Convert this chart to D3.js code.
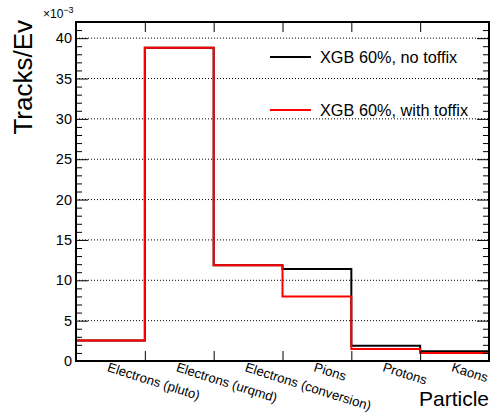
<!DOCTYPE html>
<html><head><meta charset="utf-8">
<script src="https://cdn.jsdelivr.net/npm/d3@7"></script>
<style>
body{margin:0;background:#fff;}
svg{display:block;font-family:"Liberation Sans",Arial,sans-serif;}
</style></head>
<body>
<svg id="c" width="491" height="416"></svg>
<script>
const categories = ["Electrons (pluto)","Electrons (urqmd)","Electrons (conversion)","Pions","Protons","Kaons"];
const noToffix   = [2.55, 38.8, 11.85, 11.4, 1.9, 1.2];   // x10^-3
const withToffix = [2.55, 38.8, 11.85, 8.0, 1.5, 1.0];    // x10^-3
const seriesNames = ["XGB 60%, no toffix","XGB 60%, with toffix"];
const seriesColors = ["#000000","#ff0000"];
const yMajor = [0,5,10,15,20,25,30,35,40];

const svg = d3.select("#c");
const L=76, R=489, T=22, B=361;
const xEdge = d3.scaleLinear().domain([0,categories.length]).range([L,R]);
const xBand = d3.scaleBand().domain(categories).range([L,R]).padding(0);
const y = d3.scaleLinear().domain([0,42]).range([B,T]);

// grid
svg.append("g").selectAll("line").data(yMajor.filter(v=>v>0)).join("line")
  .attr("x1",L).attr("x2",R).attr("y1",d=>y(d)).attr("y2",d=>y(d))
  .attr("stroke","#000").attr("stroke-width",1).attr("stroke-dasharray","1,2");

// histograms
function stepPath(vals){
  const pts=[[0,0]];
  vals.forEach((v,i)=>{pts.push([i,v]);pts.push([i+1,v]);});
  pts.push([vals.length,0]);
  return d3.line().x(d=>xEdge(d[0])).y(d=>y(d[1]))(pts);
}
[noToffix,withToffix].forEach((vals,i)=>{
  svg.append("path").attr("d",stepPath(vals)).attr("fill","none")
    .attr("stroke",seriesColors[i]).attr("stroke-width",2);
});

// axes
const minor = d3.range(0,43,1).filter(v=>v%5!==0);
function styleAxis(g){g.select(".domain").remove();g.selectAll("line").attr("stroke","#000").attr("stroke-width",1);}
svg.append("g").attr("transform",`translate(${L},0)`)
  .call(d3.axisLeft(y).tickValues(yMajor).tickSize(-12).tickPadding(4).tickFormat(d3.format("d")))
  .call(styleAxis)
  .call(g=>g.selectAll("text").attr("font-size",14.5).attr("fill","#000").attr("font-family","Liberation Sans, Arial, sans-serif"));
svg.append("g").attr("transform",`translate(${L},0)`)
  .call(d3.axisLeft(y).tickValues(minor).tickSize(-6).tickFormat(""))
  .call(styleAxis);
svg.append("g").attr("transform",`translate(${R},0)`)
  .call(d3.axisRight(y).tickValues(yMajor).tickSize(-12).tickFormat(""))
  .call(styleAxis);
svg.append("g").attr("transform",`translate(${R},0)`)
  .call(d3.axisRight(y).tickValues(minor).tickSize(-6).tickFormat(""))
  .call(styleAxis);
const edges = d3.range(1,categories.length);
svg.append("g").attr("transform",`translate(0,${B})`)
  .call(d3.axisBottom(xEdge).tickValues(edges).tickSize(-10).tickFormat(""))
  .call(styleAxis);
svg.append("g").attr("transform",`translate(0,${T})`)
  .call(d3.axisTop(xEdge).tickValues(edges).tickSize(-10).tickFormat(""))
  .call(styleAxis);

// frame
svg.append("rect").attr("x",L).attr("y",T).attr("width",R-L).attr("height",B-T)
  .attr("fill","none").attr("stroke","#000").attr("stroke-width",2);

// category labels
svg.append("g").selectAll("text").data(categories).join("text")
  .attr("transform",d=>`translate(${xBand(d)+xBand.bandwidth()/2-1},${B+1}) rotate(17.5)`)
  .attr("dy","0.72em").attr("font-size",13.2).attr("fill","#000").text(d=>d);

// axis titles
svg.append("text").attr("transform","translate(32,20) rotate(-90)")
  .attr("text-anchor","end").attr("font-size",26).attr("fill","#000").text("Tracks/Ev");
svg.append("text").attr("x",489).attr("y",406).attr("text-anchor","end")
  .attr("font-size",21).attr("fill","#000").text("Particle");
const ex = svg.append("text").attr("x",43).attr("y",18).attr("font-size",12).attr("fill","#000");
ex.append("tspan").text("\u00d710");
ex.append("tspan").attr("dy",-5).attr("font-size",9).text("\u22123");

// legend
const leg = svg.append("g");
seriesNames.forEach((n,i)=>{
  const ly = 57 + i*53;
  leg.append("line").attr("x1",270).attr("x2",311).attr("y1",ly).attr("y2",ly)
    .attr("stroke",seriesColors[i]).attr("stroke-width",2);
  leg.append("text").attr("x",320).attr("y",ly+5.5).attr("font-size",16.3).attr("fill","#000").text(n);
});
</script>
</body></html>
